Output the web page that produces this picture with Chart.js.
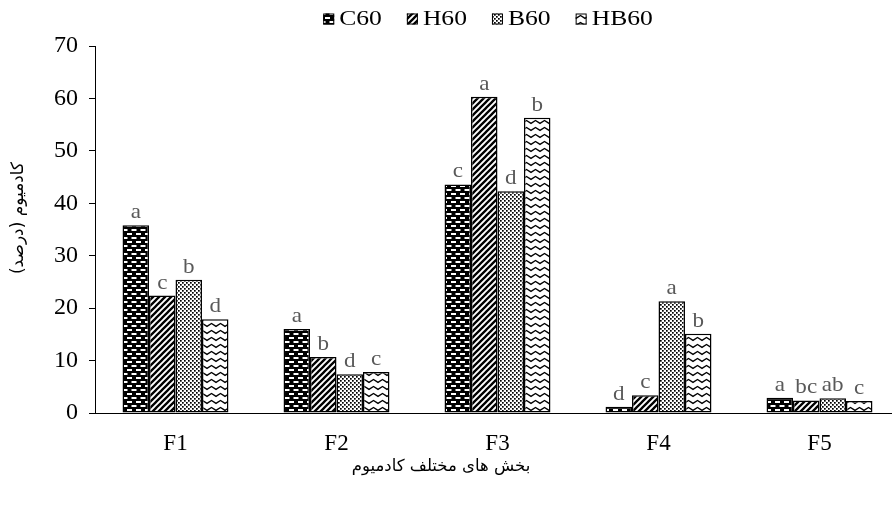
<!DOCTYPE html>
<html>
<head>
<meta charset="utf-8">
<script src="https://cdn.jsdelivr.net/npm/chart.js@4.4.1/dist/chart.umd.min.js"></script>
<style>
  html, body { margin: 0; padding: 0; background: #fff; overflow: hidden; }
  #wrap { width: 904px; height: 506px; position: relative; }
</style>
</head>
<body>
<div id="wrap"><canvas id="chart"></canvas></div>
<script>
// Cadmium fractions (%) per treatment
const categories = ['F1', 'F2', 'F3', 'F4', 'F5'];
const seriesNames = ['C60', 'H60', 'B60', 'HB60'];

const c60  = [35.8, 16.0, 43.6, 1.2, 2.9];
const h60  = [22.4, 10.7, 60.3, 3.4, 2.4];
const b60  = [25.4, 7.4, 42.3, 21.3, 2.8];
const hb60 = [17.9, 7.8, 56.3, 15.1, 2.3];

// Significance letters shown above each bar
const c60Letters  = ['a', 'a', 'c', 'd', 'a'];
const h60Letters  = ['c', 'b', 'a', 'c', 'bc'];
const b60Letters  = ['b', 'd', 'd', 'a', 'ab'];
const hb60Letters = ['d', 'c', 'b', 'b', 'c'];

const yMin = 0, yMax = 70, yStep = 10;

const xTitle = 'بخش های مختلف کادمیوم';
const yTitle = 'کادمیوم (درصد)';

const SERIF = "'Liberation Serif', 'Times New Roman', serif";
const ARABIC = "'DejaVu Sans', sans-serif";

// ---- fill patterns ----
function makePattern(kind) {
  const t = document.createElement('canvas');
  let g;
  if (kind === 'dash') {
    t.width = 9; t.height = 8; g = t.getContext('2d');
    g.fillStyle = '#000'; g.fillRect(0, 0, 9, 8);
    g.fillStyle = '#fff';
    g.fillRect(1, 1, 5, 2);
    g.fillRect(5.5, 5, 5, 2);
    g.fillRect(-3.5, 5, 5, 2);
  } else if (kind === 'diag') {
    t.width = 6; t.height = 6; g = t.getContext('2d');
    g.fillStyle = '#fff'; g.fillRect(0, 0, 6, 6);
    g.strokeStyle = '#000'; g.lineWidth = 2.3;
    g.beginPath();
    g.moveTo(-1, 7); g.lineTo(7, -1);
    g.moveTo(-1, 1); g.lineTo(1, -1);
    g.moveTo(5, 7); g.lineTo(7, 5);
    g.stroke();
  } else if (kind === 'dots') {
    t.width = 4; t.height = 4; g = t.getContext('2d');
    g.fillStyle = '#fff'; g.fillRect(0, 0, 4, 4);
    g.fillStyle = '#000';
    g.fillRect(0, 0, 1.7, 1.7);
    g.fillRect(2, 2, 1.7, 1.7);
  } else {
    t.width = 9; t.height = 7; g = t.getContext('2d');
    g.fillStyle = '#fff'; g.fillRect(0, 0, 9, 7);
    g.strokeStyle = '#000'; g.lineWidth = 1.3;
    g.beginPath();
    g.moveTo(-1, 5); g.lineTo(4.5, 1.5); g.lineTo(10, 5);
    g.stroke();
  }
  return g.createPattern(t, 'repeat');
}

const fills = [makePattern('dash'), makePattern('diag'), makePattern('dots'), makePattern('wave')];
const values = [c60, h60, b60, hb60];
const letterSets = [c60Letters, h60Letters, b60Letters, hb60Letters];

const datasets = seriesNames.map((name, i) => ({
  label: name,
  data: values[i],
  letters: letterSets[i],
  backgroundColor: fills[i],
  borderColor: '#000',
  borderWidth: 1.5,
  borderSkipped: false,
  barPercentage: 1.0,
  categoryPercentage: 0.658
}));

// draws text widened horizontally (serif labels are set a little wide)
function wideText(ctx, text, x, y, sx, align) {
  const w = ctx.measureText(text).width * sx;
  let left = x;
  if (align === 'center') left = x - w / 2;
  else if (align === 'right') left = x - w;
  ctx.save();
  ctx.translate(left, y);
  ctx.scale(sx, 1);
  ctx.textAlign = 'left';
  ctx.fillText(text, 0, 0);
  ctx.restore();
  return w;
}

// letters above bars
const letterPlugin = {
  id: 'letters',
  afterDatasetsDraw(chart) {
    const ctx = chart.ctx;
    ctx.save();
    ctx.font = '21px ' + SERIF;
    ctx.fillStyle = '#595959';
    ctx.textBaseline = 'alphabetic';
    chart.data.datasets.forEach((ds, di) => {
      const meta = chart.getDatasetMeta(di);
      meta.data.forEach((bar, i) => {
        wideText(ctx, ds.letters[i], bar.x, bar.y - 7, 1.1, 'center');
      });
    });
    ctx.restore();
  }
};

// legend row and axis titles
const decorPlugin = {
  id: 'decor',
  afterDraw(chart) {
    const ctx = chart.ctx;
    ctx.save();
    // legend
    const sx = 1.28;
    ctx.font = '20px ' + SERIF;
    ctx.textBaseline = 'middle';
    const box = 11, gapBox = 5, gapItem = 25;
    const items = chart.data.datasets.map(ds => ({
      ds, w: box + gapBox + ctx.measureText(ds.label).width * sx
    }));
    const total = items.reduce((s, it) => s + it.w, 0) + gapItem * (items.length - 1);
    let x = 488 - total / 2;
    const ly = 19;
    items.forEach(it => {
      ctx.fillStyle = it.ds.backgroundColor;
      ctx.fillRect(x, ly - box / 2, box, box);
      ctx.strokeStyle = '#000';
      ctx.lineWidth = 1;
      ctx.strokeRect(x + 0.5, ly - box / 2 + 0.5, box - 1, box - 1);
      ctx.fillStyle = '#000';
      wideText(ctx, it.ds.label, x + box + gapBox, ly + 1, sx, 'left');
      x += it.w + gapItem;
    });

    // x title
    ctx.font = '16.5px ' + ARABIC;
    ctx.textAlign = 'center';
    ctx.fillStyle = '#000';
    ctx.fillText('\u200F' + xTitle + '\u200F', 441, 467);

    // y title
    ctx.translate(19, 218);
    ctx.rotate(-Math.PI / 2);
    ctx.font = '17px ' + ARABIC;
    ctx.fillText('\u200F' + yTitle + '\u200F', 0, 0);
    ctx.restore();
  }
};

new Chart(document.getElementById('chart'), {
  type: 'bar',
  data: { labels: categories, datasets },
  plugins: [letterPlugin, decorPlugin],
  options: {
    responsive: true,
    maintainAspectRatio: false,
    animation: false,
    layout: { padding: { top: 46, left: 0, right: 4, bottom: 0 } },
    plugins: {
      legend: { display: false },
      tooltip: { enabled: false }
    },
    scales: {
      x: {
        afterFit(scale) { scale.height = 93; },
        grid: { display: false, drawTicks: false },
        border: { display: true, color: '#000', width: 1 },
        ticks: {
          color: '#000',
          padding: 17,
          font: { family: SERIF, size: 23 }
        }
      },
      y: {
        min: yMin,
        max: yMax,
        afterFit(scale) { scale.width = 95; },
        grid: { drawOnChartArea: false, drawTicks: true, tickLength: 6, color: '#000' },
        border: { display: true, color: '#000', width: 1 },
        ticks: {
          stepSize: yStep,
          color: '#000',
          padding: 11,
          font: { family: SERIF, size: 24 }
        }
      }
    }
  }
});
</script>
</body>
</html>
